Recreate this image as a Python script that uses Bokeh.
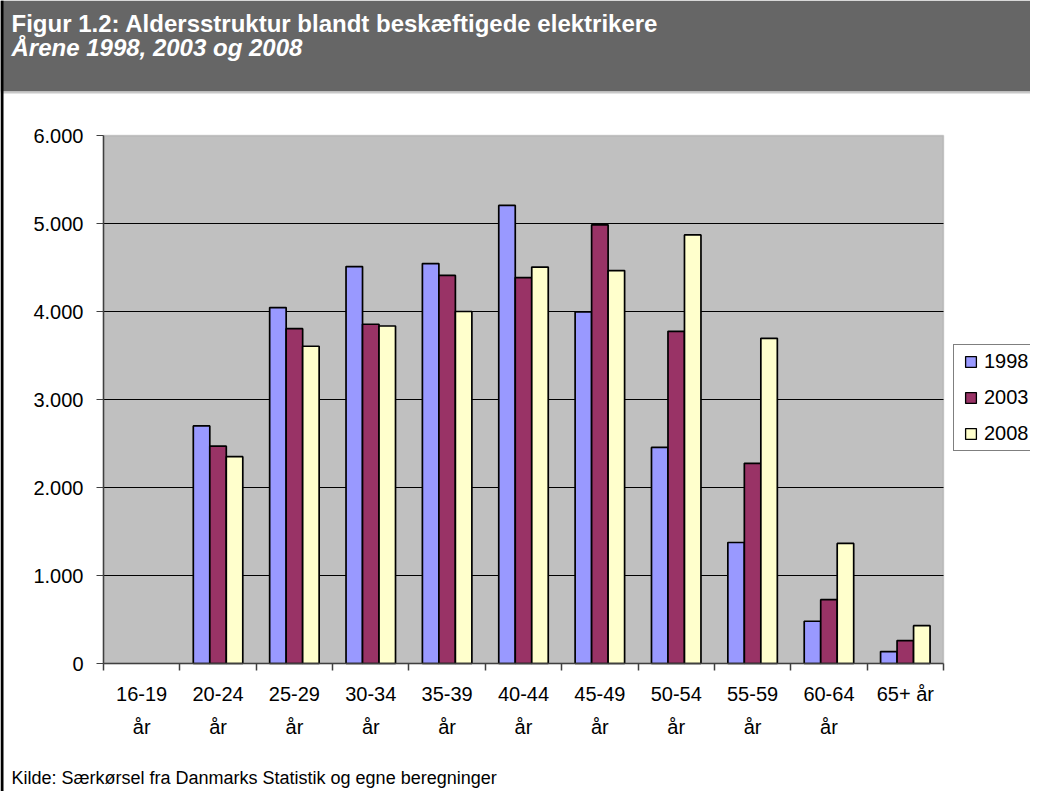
from bokeh.plotting import figure
from bokeh.models import (ColumnDataSource, Range1d, FixedTicker, Legend, LegendItem,
                          Label, BoxAnnotation, CDSView, BooleanFilter)
from bokeh.transform import dodge
from bokeh.embed import file_html
from bokeh.resources import INLINE

# ---------------- data ----------------
categories = ["16-19\når", "20-24\når", "25-29\når", "30-34\når", "35-39\når",
              "40-44\når", "45-49\når", "50-54\når", "55-59\når", "60-64\når", "65+ år"]
years = ["1998", "2003", "2008"]
v1998 = [0, 2700, 4045, 4510, 4545, 5205, 3995, 2455, 1375, 480, 135]
v2003 = [0, 2470, 3805, 3855, 4410, 4385, 4985, 3775, 2275, 725, 260]
v2008 = [0, 2350, 3605, 3835, 4000, 4505, 4465, 4870, 3695, 1365, 430]
y_ticks = [0, 1000, 2000, 3000, 4000, 5000, 6000]
y_tick_labels = ["0", "1.000", "2.000", "3.000", "4.000", "5.000", "6.000"]
title_line1 = "Figur 1.2: Aldersstruktur blandt beskæftigede elektrikere"
title_line2 = "Årene 1998, 2003 og 2008"
source_text = "Kilde: Særkørsel fra Danmarks Statistik og egne beregninger"
colors = ["#9999FF", "#993366", "#FFFFCC"]

FONT = "Liberation Sans"
n = len(categories)
y_max = y_ticks[-1]
centers = [i + 0.5 for i in range(n)]
bounds = [float(i) for i in range(n + 1)]
series = {"1998": v1998, "2003": v2003, "2008": v2008}

# ---------------- layout (pixels on the canvas) ----------------
W, H = 1030, 791
PL, PR, PT, PB = 103, 943, 135, 663   # plot-area edges
xpx = (PR - PL) / n
ypx = (PB - PT) / y_max
x_range = Range1d(-PL / xpx, n + (W - PR) / xpx)
y_range = Range1d(-(H - PB) / ypx, y_max + PT / ypx)

p = figure(width=W, height=H, output_backend="svg", toolbar_location=None,
           x_range=x_range, y_range=y_range, min_border=0,
           background_fill_color="white", border_fill_color="white")
p.outline_line_color = None
p.grid.visible = False

# plot area background
p.add_layout(BoxAnnotation(left=0, right=n, bottom=0, top=y_max, level="underlay",
                           fill_color="#C0C0C0", fill_alpha=1.0,
                           line_color="#808080", line_width=1.5))

# horizontal gridlines
grid_y = [t for t in y_ticks if 0 < t < y_max]
p.segment(x0=[0] * len(grid_y), x1=[n] * len(grid_y), y0=grid_y, y1=grid_y,
          line_color="black", line_width=1)

# bars (zero values are not drawn)
src = ColumnDataSource(dict(x=centers, y1998=v1998, y2003=v2003, y2008=v2008))
bw = 0.216
offsets = [-bw, 0.0, bw]
for yr, col, off in zip(years, colors, offsets):
    view = CDSView(filter=BooleanFilter([v > 0 for v in series[yr]]))
    p.vbar(x=dodge("x", off, range=p.x_range), top="y" + yr, width=bw, source=src,
           view=view, fill_color=col, line_color="black", line_width=1.7)

# y axis
ya = p.yaxis[0]
ya.fixed_location = 0
ya.bounds = (0, y_max)
ya.ticker = FixedTicker(ticks=y_ticks)
ya.major_label_overrides = {t: l for t, l in zip(y_ticks, y_tick_labels)}
ya.major_tick_out = 7
ya.major_tick_in = 0
ya.minor_tick_out = 0
ya.minor_tick_in = 0
ya.major_label_standoff = 13
ya.axis_line_color = "#404040"
ya.axis_line_width = 1.5
ya.major_tick_line_color = "#404040"
ya.major_label_text_font = FONT
ya.major_label_text_font_size = "20px"
ya.major_label_text_color = "black"

# x axis
xa = p.xaxis[0]
xa.fixed_location = 0
xa.bounds = (0, n)
xa.ticker = FixedTicker(ticks=centers, minor_ticks=bounds)
xa.major_label_overrides = {c: l for c, l in zip(centers, categories)}
xa.major_tick_out = 0
xa.major_tick_in = 0
xa.minor_tick_out = 7
xa.minor_tick_in = 0
xa.minor_tick_line_color = "#404040"
xa.minor_tick_line_width = 1.5
xa.axis_line_color = "#404040"
xa.axis_line_width = 1.5
xa.major_label_standoff = 12
xa.major_label_text_font = FONT
xa.major_label_text_font_size = "20px"
xa.major_label_text_color = "black"
xa.major_label_text_line_height = 1.5

# legend swatches: square markers with no drawable point (legend only)
nan = float("nan")
swatch_src = ColumnDataSource(dict(x=[nan], y=[nan]))
swatches = [p.scatter(x="x", y="y", source=swatch_src, marker="square", size=11,
                      fill_color=col, line_color="black", line_width=1.3)
            for col in colors]
legend = Legend(items=[LegendItem(label=yr, renderers=[r]) for yr, r in zip(years, swatches)],
                location=(953, H - 451), orientation="vertical",
                label_text_font=FONT, label_text_font_size="20px", label_text_color="black",
                glyph_width=27, glyph_height=27, label_standoff=0,
                padding=3, spacing=9, margin=0,
                border_line_color="black", border_line_width=1,
                background_fill_color="white", background_fill_alpha=1.0)
p.add_layout(legend)

# header band, border, texts (screen units from the canvas' bottom-left)
def box(l, r, t, b, color):
    return BoxAnnotation(left=l, right=r, top=H - t, bottom=H - b,
                         left_units="screen", right_units="screen",
                         top_units="screen", bottom_units="screen",
                         fill_color=color, fill_alpha=1.0, line_color=None)

p.add_layout(box(0, W, 0, 91, "#666666"))
p.add_layout(box(0, W, 91, 93, "#C8C8C8"))
p.add_layout(box(0, 3, 0, H, "black"))

p.add_layout(Label(x=11, y=H - 23, x_units="screen", y_units="screen",
                   text=title_line1, text_font=FONT, text_font_size="24px",
                   text_font_style="bold", text_color="white", text_baseline="alphabetic"))
p.add_layout(Label(x=11, y=H - 47, x_units="screen", y_units="screen",
                   text=title_line2, text_font=FONT, text_font_size="24px",
                   text_font_style="bold italic", text_color="white",
                   text_baseline="alphabetic"))
p.add_layout(Label(x=11, y=H - 777, x_units="screen", y_units="screen",
                   text=source_text, text_font=FONT, text_font_size="18px",
                   text_color="black", text_baseline="alphabetic"))

open("out.html", "w").write(file_html(p, INLINE))
